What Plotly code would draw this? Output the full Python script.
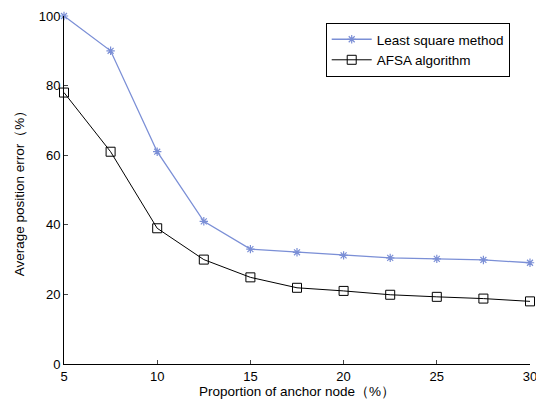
import plotly.graph_objects as go

x_vals = [5, 7.5, 10, 12.5, 15, 17.5, 20, 22.5, 25, 27.5, 30]
least_square = [100, 90, 61, 41, 33, 32.1, 31.2, 30.5, 30.2, 29.9, 29.1]
afsa = [78, 61, 39, 30, 24.9, 21.9, 21.0, 19.9, 19.3, 18.8, 18.0]
x_ticks = [5, 10, 15, 20, 25, 30]
y_ticks = [0, 20, 40, 60, 80, 100]

FAM = "Liberation Sans, Arial, sans-serif"
font = dict(family=FAM, size=13, color="black")

fig = go.Figure()
fig.add_trace(go.Scatter(
    x=x_vals, y=least_square, name="Least square method", mode="lines+markers",
    line=dict(color="#7b8fd6", width=1.3),
    marker=dict(symbol="asterisk-open", size=7, line=dict(color="#2a3fa8", width=1.2)),
    cliponaxis=False,
))
fig.add_trace(go.Scatter(
    x=x_vals, y=afsa, name="AFSA algorithm", mode="lines+markers",
    line=dict(color="black", width=1),
    marker=dict(symbol="square-open", size=9, color="black", line=dict(color="black", width=1)),
    cliponaxis=False,
))

fig.update_layout(
    width=536, height=401,
    margin=dict(l=64, r=6, t=16, b=37, autoexpand=False),
    paper_bgcolor="white", plot_bgcolor="white",
    font=font,
    showlegend=True,
    legend=dict(
        x=0.5616, y=0.98, xanchor="left", yanchor="top",
        bordercolor="black", borderwidth=1, bgcolor="white",
        font=dict(family=FAM, size=13.5),
        itemwidth=40, tracegroupgap=0,
    ),
    xaxis=dict(
        range=[5, 30], tickvals=x_ticks, ticks="inside", ticklen=4,
        showline=True, linecolor="black", linewidth=1, mirror=False,
        showgrid=False, zeroline=False, automargin=False,
        ticklabeloverflow="allow", tickfont=dict(size=13),
        title=dict(text="Proportion of anchor node（%）", standoff=2, font=dict(size=13.5)),
    ),
    yaxis=dict(
        range=[0, 100], tickvals=y_ticks, ticks="inside", ticklen=4,
        showline=True, linecolor="black", linewidth=1, mirror=False,
        showgrid=False, zeroline=False, automargin=False,
        ticklabeloverflow="allow", tickfont=dict(size=13),
        title=dict(text="Average position error（%）", standoff=10, font=dict(size=13.5)),
    ),
)

fig.write_html(
    "out.html",
    config={"displayModeBar": False},
    post_script="document.body.style.margin='0';document.body.style.overflow='hidden';",
)
